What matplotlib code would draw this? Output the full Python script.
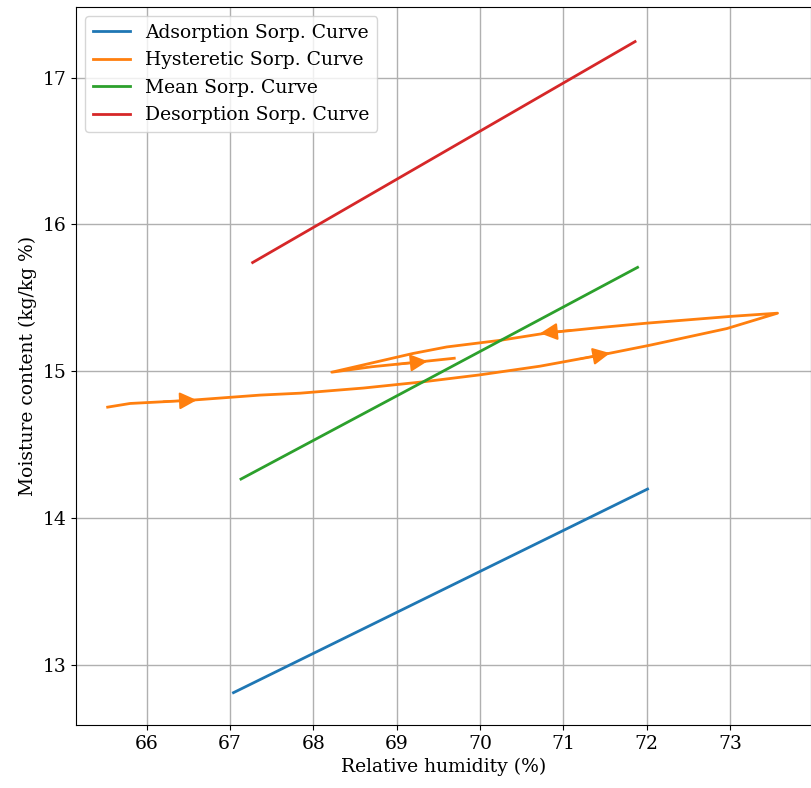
import matplotlib
matplotlib.use("Agg")
import matplotlib.pyplot as plt

plt.rcParams['font.family'] = 'DejaVu Serif'
plt.rcParams['font.size'] = 13.5

# adsorption / mean / desorption curves (RH %, moisture %)
ads_rh = [67.04, 72.01]
ads_mc = [12.81, 14.197]
mean_rh = [67.13, 71.89]
mean_mc = [14.265, 15.707]
des_rh = [67.27, 71.86]
des_mc = [15.74, 17.245]

# hysteretic path
hys_rh = [65.53, 65.80, 66.48, 67.36, 67.84, 68.60, 69.31, 70.00, 70.72, 71.44, 72.04, 72.96, 73.57,
          73.03, 72.00, 71.40, 70.80, 70.24, 69.60, 69.19, 68.22,
          68.70, 69.22, 69.69]
hys_mc = [14.755, 14.78, 14.80, 14.837, 14.85, 14.885, 14.927, 14.975, 15.034, 15.109, 15.177, 15.29, 15.395,
          15.374, 15.327, 15.295, 15.26, 15.21, 15.165, 15.12, 14.993,
          15.03, 15.06, 15.088]

# direction arrows on the hysteretic path: tail -> tip
arr_tail_rh = [66.20, 69.00, 71.10, 71.20]
arr_tail_mc = [14.793, 15.046, 15.28, 15.084]
arr_tip_rh = [66.60, 69.37, 70.72, 71.56]
arr_tip_mc = [14.803, 15.068, 15.258, 15.123]

fig = plt.figure(figsize=(8.12, 7.88), dpi=100)
ax = fig.add_axes([0.0936, 0.08, 0.905, 0.911])

ax.plot(ads_rh, ads_mc, color='tab:blue', lw=2, label='Adsorption Sorp. Curve')
ax.plot(hys_rh, hys_mc, color='tab:orange', lw=2, label='Hysteretic Sorp. Curve')
ax.plot(mean_rh, mean_mc, color='tab:green', lw=2, label='Mean Sorp. Curve')
ax.plot(des_rh, des_mc, color='tab:red', lw=2, label='Desorption Sorp. Curve')

for i in range(len(arr_tip_rh)):
    ax.annotate('', xy=(arr_tip_rh[i], arr_tip_mc[i]), xytext=(arr_tail_rh[i], arr_tail_mc[i]),
                arrowprops=dict(arrowstyle='-|>', color='tab:orange', lw=1.5,
                                mutation_scale=26, shrinkA=0, shrinkB=0))

ax.set_xlim(65.15, 73.97)
ax.set_ylim(12.59, 17.48)
ax.grid(True, color='#b0b0b0', lw=1)
ax.set_xlabel('Relative humidity (%)')
ax.set_ylabel('Moisture content (kg/kg %)')
ax.legend(loc='upper left')

fig.savefig('out.png', dpi=100)
